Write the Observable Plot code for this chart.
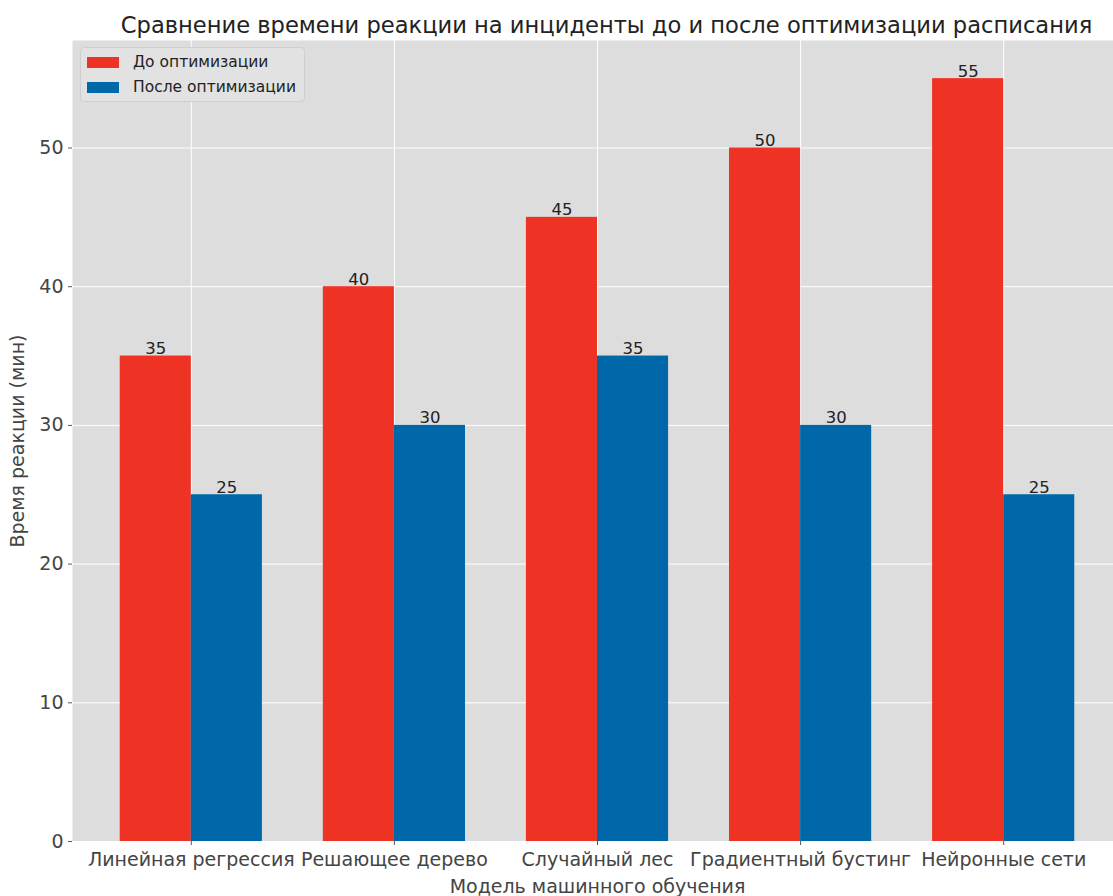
<!DOCTYPE html>
<html><head><meta charset="utf-8">
<script src="https://cdn.jsdelivr.net/npm/d3@7"></script>
<script src="https://cdn.jsdelivr.net/npm/@observablehq/plot@0.6"></script>
<style>
body{margin:0;background:#fff;font-family:"DejaVu Sans",sans-serif;}
#wrap{position:relative;width:1113px;height:896px;overflow:hidden;}
#legend{position:absolute;left:80px;top:47px;width:225px;height:55px;background:#e2e2e2;border:1px solid #cfcfcf;border-radius:4px;box-sizing:border-box;font-size:15.5px;color:#222;}
.row{position:absolute;left:6px;display:flex;align-items:center;}
.sw{width:32px;height:11px;margin-right:14px;}
</style></head>
<body><div id="wrap"></div>
<script>
const categories = ["Линейная регрессия","Решающее дерево","Случайный лес","Градиентный бустинг","Нейронные сети"];
const before = [35,40,45,50,55];
const after = [25,30,35,30,25];
const seriesNames = ["До оптимизации","После оптимизации"];
const colors = ["#ee3224","#0068a8"];
const yTicks = [0,10,20,30,40,50];
const barW = 0.35;

const rows = [];
categories.forEach((c,i)=>{
  rows.push({i, s:0, v:before[i], x1:i-barW, x2:i});
  rows.push({i, s:1, v:after[i], x1:i, x2:i+barW});
});

const chart = Plot.plot({
  width:1113, height:896,
  marginLeft:72, marginRight:-9, marginTop:40, marginBottom:55,
  style:{fontFamily:"DejaVu Sans, sans-serif", background:"#fff"},
  x:{type:"linear", domain:[-0.585,4.585]},
  y:{domain:[0,57.75]},
  marks:[
    Plot.frame({fill:"#dddddd", stroke:null}),
    Plot.gridY(yTicks,{stroke:"#fff", strokeOpacity:1, strokeWidth:1}),
    Plot.gridX(d3.range(categories.length),{stroke:"#fff", strokeOpacity:1, strokeWidth:1}),
    Plot.rectY(rows,{x1:"x1", x2:"x2", y1:0, y2:"v", fill:d=>colors[d.s]}),
    Plot.text(rows,{x:d=>(d.x1+d.x2)/2, y:"v", text:d=>String(d.v), lineAnchor:"bottom", dy:-2, fontSize:16.5, fill:"#222"}),
    Plot.axisY(yTicks,{tickSize:4, tickPadding:5, fontSize:19, stroke:"#555", fill:"#444", label:"Время реакции (мин)", labelAnchor:"center", labelOffset:62, labelArrow:"none"}),
    Plot.axisX(d3.range(categories.length),{tickSize:4, tickPadding:7, fontSize:19, stroke:"#555", fill:"#444", tickFormat:i=>categories[i], label:null}),
    Plot.text(["Модель машинного обучения"],{frameAnchor:"bottom", lineAnchor:"middle", dy:45, fontSize:19, fill:"#444", text:d=>d}),
    Plot.text(["Сравнение времени реакции на инциденты до и после оптимизации расписания"],{frameAnchor:"top", lineAnchor:"middle", dy:-15, dx:9, fontSize:22.6, fill:"#222", text:d=>d})
  ]
});
const wrap = document.getElementById("wrap");
wrap.appendChild(chart);
const lg = document.createElement("div");
lg.id="legend";
seriesNames.forEach((n,k)=>{
  const r=document.createElement("div");
  r.className="row"; r.style.top=(k===0?5:30)+"px";
  r.innerHTML=`<span class="sw" style="background:${colors[k]}"></span><span>${n}</span>`;
  lg.appendChild(r);
});
wrap.appendChild(lg);
</script></body></html>
